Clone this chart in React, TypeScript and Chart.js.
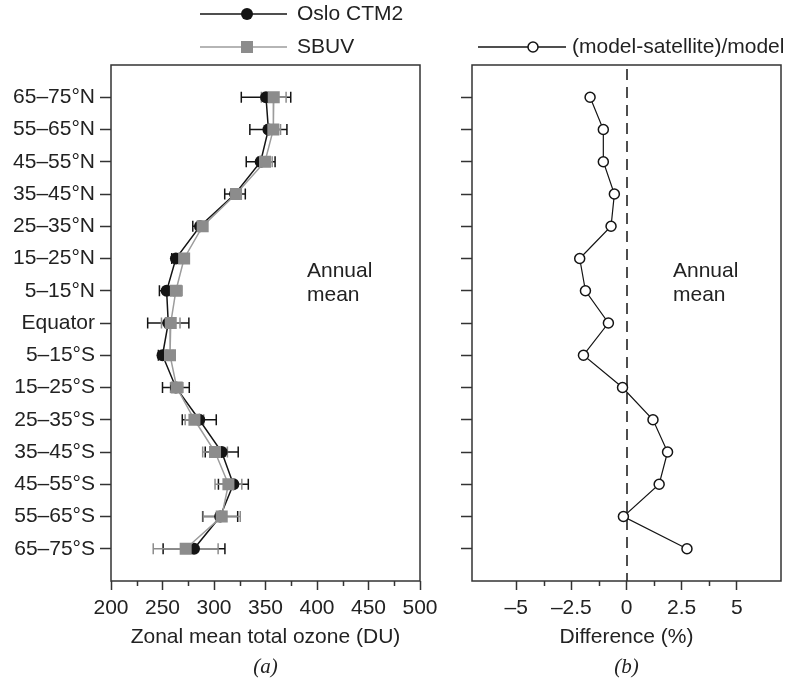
import React, { useEffect, useRef } from "react";
import { Chart, registerables } from "chart.js";

Chart.register(...registerables);

// ---------- data ----------
const latitudeBands = [
  "65–75°N", "55–65°N", "45–55°N", "35–45°N", "25–35°N", "15–25°N", "5–15°N",
  "Equator", "5–15°S", "15–25°S", "25–35°S", "35–45°S", "45–55°S", "55–65°S", "65–75°S",
];
const osloCTM2 = [350.5, 352.8, 345.3, 320.4, 286.4, 263, 254, 255.6, 250, 263, 285.7, 307.5, 318.8, 306, 280.6];
const osloCTM2Err = [24, 18, 14, 10, 7, 4, 7, 20, 4, 13, 16.5, 16, 14.5, 17, 30];
const sbuv = [358, 357.6, 349.5, 321.4, 289, 271, 263, 258, 257.3, 263.8, 281, 301, 314, 307.5, 272.5];
const sbuvErr = [12, 7, 7, 5, 4, 3, 6, 9, 3, 6, 9, 12, 13, 18, 31.5];
const difference = [-1.65, -1.05, -1.05, -0.55, -0.7, -2.12, -1.86, -0.82, -1.95, -0.18, 1.2, 1.86, 1.48, -0.14, 2.74];

const ozoneTicks = [200, 250, 300, 350, 400, 450, 500];
const ozoneMinorTicks = [225, 275, 325, 375, 425, 475];
const diffTicks = [-5, -2.5, 0, 2.5, 5];
const diffMinorTicks = [-3.75, -1.25, 1.25, 3.75];

const labelOslo = "Oslo CTM2";
const labelSbuv = "SBUV";
const labelDiff = "(model-satellite)/model";
const titleOzone = "Zonal mean total ozone (DU)";
const titleDiff = "Difference (%)";
const annualLines = ["Annual", "mean"];
const panelLabels = ["(a)", "(b)"];

// ---------- styling ----------
const FONT = "'Liberation Sans', Arial, Helvetica, sans-serif";
const SERIF = "'Liberation Serif', 'DejaVu Serif', serif";
const FS = 21;
const TEXT = "#222";
const FRAME = "#333";
const BLACK = "#141414";
const GREY = "#8c8c8c";
const GREY_LINE = "#9c9c9c";
const H = 678;
const TOP = 65;
const BOTTOM = 581;

function yScale(width: number) {
  return {
    type: "linear" as const,
    reverse: true,
    min: -1,
    max: 15,
    afterBuildTicks: (s: any) => {
      s.ticks = latitudeBands.map((_, i) => ({ value: i }));
    },
    afterFit: (s: any) => {
      s.width = width;
    },
    ticks: {
      autoSkip: false,
      padding: 5,
      color: TEXT,
      font: { family: FONT, size: FS },
      callback: (v: any) => (width > 60 ? latitudeBands[v] ?? "" : ""),
    },
    grid: { drawOnChartArea: false, drawTicks: true, tickLength: 11, tickColor: FRAME, tickWidth: 1.5 },
    border: { display: false },
  };
}

function xScale(min: number, max: number, majors: number[], title: string, fmt: (v: number) => string) {
  return {
    type: "linear" as const,
    min,
    max,
    afterBuildTicks: (s: any) => {
      s.ticks = majors.map((v) => ({ value: v }));
    },
    afterFit: (s: any) => {
      s.height = H - BOTTOM;
    },
    ticks: {
      autoSkip: false,
      maxRotation: 0,
      padding: 6,
      color: TEXT,
      font: { family: FONT, size: FS },
      callback: (v: any) => fmt(Number(v)),
    },
    grid: { drawOnChartArea: false, drawTicks: true, tickLength: 9, tickColor: FRAME, tickWidth: 1.5 },
    border: { display: false },
    title: {
      display: true,
      text: title,
      color: TEXT,
      font: { family: FONT, size: FS },
      padding: { top: 0, bottom: 28 },
    },
  };
}

function drawFrameAndMinor(chart: any, minors: number[]) {
  const { ctx, chartArea } = chart;
  const xs = chart.scales.x;
  ctx.save();
  ctx.strokeStyle = FRAME;
  ctx.lineWidth = 1.5;
  ctx.strokeRect(chartArea.left, chartArea.top, chartArea.right - chartArea.left, chartArea.bottom - chartArea.top);
  ctx.beginPath();
  minors.forEach((v) => {
    const x = Math.round(xs.getPixelForValue(v)) + 0.5;
    ctx.moveTo(x, chartArea.bottom);
    ctx.lineTo(x, chartArea.bottom + 5);
  });
  ctx.stroke();
  ctx.restore();
}

function drawTextBlock(chart: any, x: number, panelLabel: string) {
  const { ctx, chartArea } = chart;
  ctx.save();
  ctx.fillStyle = TEXT;
  ctx.font = `${FS}px ${FONT}`;
  ctx.textAlign = "left";
  ctx.textBaseline = "alphabetic";
  ctx.fillText(annualLines[0], x, 277);
  ctx.fillText(annualLines[1], x, 301);
  ctx.font = `italic ${FS}px ${SERIF}`;
  ctx.textAlign = "center";
  ctx.textBaseline = "middle";
  ctx.fillText(panelLabel, (chartArea.left + chartArea.right) / 2, 667);
  ctx.restore();
}

function drawErrorBars(chart: any, values: number[], errs: number[], color: string) {
  const { ctx } = chart;
  const xs = chart.scales.x;
  const ys = chart.scales.y;
  ctx.save();
  ctx.strokeStyle = color;
  ctx.lineWidth = 1.5;
  ctx.beginPath();
  values.forEach((v, i) => {
    const y = ys.getPixelForValue(i);
    const x1 = xs.getPixelForValue(v - errs[i]);
    const x2 = xs.getPixelForValue(v + errs[i]);
    ctx.moveTo(x1, y);
    ctx.lineTo(x2, y);
    ctx.moveTo(x1, y - 5.5);
    ctx.lineTo(x1, y + 5.5);
    ctx.moveTo(x2, y - 5.5);
    ctx.lineTo(x2, y + 5.5);
  });
  ctx.stroke();
  ctx.restore();
}

const panelAPlugin = {
  id: "panelA",
  beforeDatasetsDraw(chart: any) {
    drawErrorBars(chart, osloCTM2, osloCTM2Err, BLACK);
    drawErrorBars(chart, sbuv, sbuvErr, GREY);
  },
  afterDraw(chart: any) {
    const { ctx } = chart;
    drawFrameAndMinor(chart, ozoneMinorTicks);
    drawTextBlock(chart, 307, panelLabels[0]);
    // legend
    ctx.save();
    ctx.lineWidth = 1.5;
    ctx.strokeStyle = BLACK;
    ctx.beginPath();
    ctx.moveTo(200, 14);
    ctx.lineTo(287, 14);
    ctx.stroke();
    ctx.fillStyle = BLACK;
    ctx.beginPath();
    ctx.arc(247, 14, 6, 0, Math.PI * 2);
    ctx.fill();
    ctx.strokeStyle = GREY_LINE;
    ctx.beginPath();
    ctx.moveTo(200, 47);
    ctx.lineTo(287, 47);
    ctx.stroke();
    ctx.fillStyle = GREY;
    ctx.fillRect(241, 41, 12, 12);
    ctx.fillStyle = TEXT;
    ctx.font = `${FS}px ${FONT}`;
    ctx.textAlign = "left";
    ctx.textBaseline = "middle";
    ctx.fillText(labelOslo, 297, 14);
    ctx.fillText(labelSbuv, 297, 47);
    ctx.restore();
  },
};

const OFF_B = 445;

const panelBPlugin = {
  id: "panelB",
  beforeDatasetsDraw(chart: any) {
    const { ctx, chartArea } = chart;
    const x = Math.round(chart.scales.x.getPixelForValue(0));
    ctx.save();
    ctx.strokeStyle = BLACK;
    ctx.lineWidth = 1.5;
    ctx.setLineDash([11, 7]);
    ctx.beginPath();
    ctx.moveTo(x, chartArea.top + 4);
    ctx.lineTo(x, chartArea.bottom);
    ctx.stroke();
    ctx.restore();
  },
  afterDraw(chart: any) {
    const { ctx } = chart;
    drawFrameAndMinor(chart, diffMinorTicks);
    drawTextBlock(chart, 673 - OFF_B, panelLabels[1]);
    ctx.save();
    ctx.lineWidth = 1.3;
    ctx.strokeStyle = BLACK;
    ctx.beginPath();
    ctx.moveTo(478 - OFF_B, 47);
    ctx.lineTo(566 - OFF_B, 47);
    ctx.stroke();
    ctx.fillStyle = "#fff";
    ctx.lineWidth = 1.5;
    ctx.beginPath();
    ctx.arc(533 - OFF_B, 47, 5, 0, Math.PI * 2);
    ctx.fill();
    ctx.stroke();
    ctx.fillStyle = TEXT;
    ctx.font = `${FS}px ${FONT}`;
    ctx.textAlign = "left";
    ctx.textBaseline = "middle";
    ctx.fillText(labelDiff, 572 - OFF_B, 47);
    ctx.restore();
  },
};

export default function App() {
  const refA = useRef<HTMLCanvasElement>(null);
  const refB = useRef<HTMLCanvasElement>(null);

  useEffect(() => {
    const common = {
      animation: false as const,
      responsive: false,
      devicePixelRatio: 1,
      events: [] as any[],
      plugins: { legend: { display: false }, tooltip: { enabled: false } },
    };

    const chartA = new Chart(refA.current!, {
      type: "scatter",
      data: {
        datasets: [
          {
            label: labelOslo,
            data: osloCTM2.map((v, i) => ({ x: v, y: i })),
            showLine: true,
            borderColor: BLACK,
            borderWidth: 1.5,
            pointStyle: "circle",
            pointRadius: 6,
            pointBackgroundColor: BLACK,
            pointBorderWidth: 0,
            order: 2,
          },
          {
            label: labelSbuv,
            data: sbuv.map((v, i) => ({ x: v, y: i })),
            showLine: true,
            borderColor: GREY_LINE,
            borderWidth: 1.5,
            pointStyle: "rect",
            pointRadius: 8.5,
            pointBackgroundColor: GREY,
            pointBorderWidth: 0,
            order: 1,
          },
        ],
      },
      options: {
        ...common,
        layout: { padding: { top: TOP, left: 0, right: 25, bottom: 0 } },
        scales: {
          x: xScale(200, 500, ozoneTicks, titleOzone, (v) => String(v)),
          y: yScale(111),
        },
      } as any,
      plugins: [panelAPlugin],
    });

    const chartB = new Chart(refB.current!, {
      type: "scatter",
      data: {
        datasets: [
          {
            label: labelDiff,
            data: difference.map((v, i) => ({ x: v, y: i })),
            showLine: true,
            borderColor: BLACK,
            borderWidth: 1.2,
            pointStyle: "circle",
            pointRadius: 5,
            pointBackgroundColor: "#fff",
            pointBorderColor: BLACK,
            pointBorderWidth: 1.5,
          },
        ],
      },
      options: {
        ...common,
        layout: { padding: { top: TOP, left: 0, right: 30, bottom: 0 } },
        scales: {
          x: xScale(-7, 7, diffTicks, titleDiff, (v) => (v < 0 ? "–" + Math.abs(v) : String(v))),
          y: yScale(27),
        },
      } as any,
      plugins: [panelBPlugin],
    });

    return () => {
      chartA.destroy();
      chartB.destroy();
    };
  }, []);

  return (
    <div style={{ position: "absolute", left: 0, top: 0, width: 811, height: H, background: "#fff" }}>
      <canvas ref={refA} width={OFF_B} height={H} style={{ position: "absolute", left: 0, top: 0 }} />
      <canvas ref={refB} width={811 - OFF_B} height={H} style={{ position: "absolute", left: OFF_B, top: 0 }} />
    </div>
  );
}
